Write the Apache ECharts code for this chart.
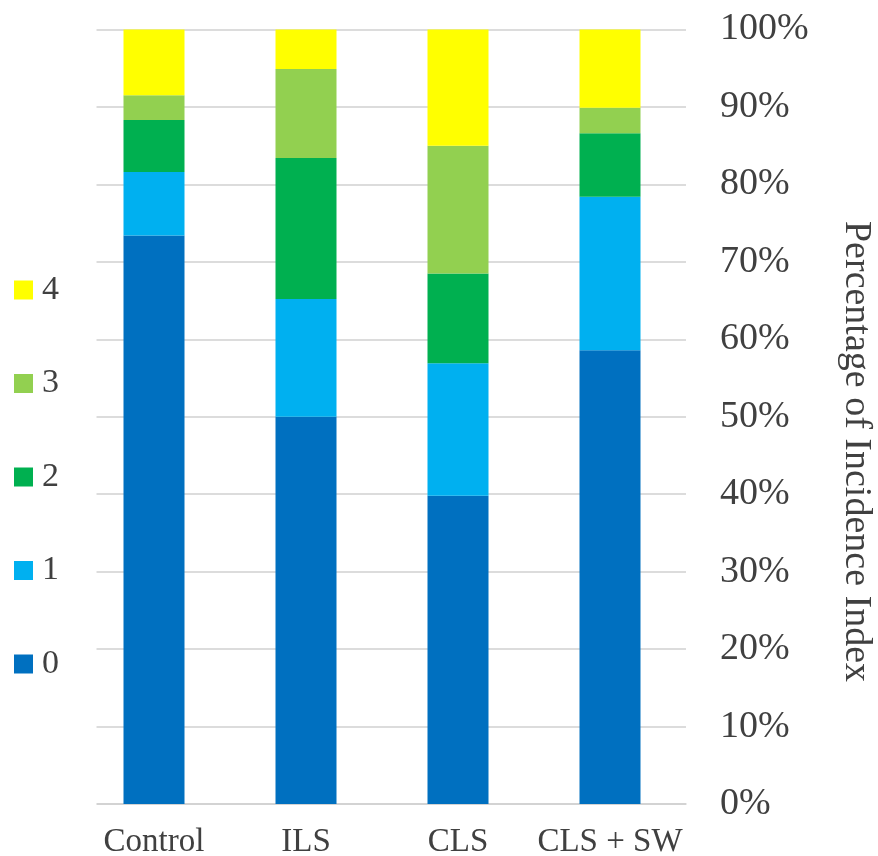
<!DOCTYPE html>
<html>
<head>
<meta charset="utf-8">
<script src="https://cdn.jsdelivr.net/npm/echarts@6/dist/echarts.min.js"></script>
<style>
  html, body { margin: 0; padding: 0; background: #fff; }
  #chart { width: 878px; height: 856px; }
</style>
</head>
<body>
<div id="chart"></div>
<script>
// Groups along the x axis
const categories = ['Control', 'ILS', 'CLS', 'CLS + SW'];

// Share (%) of each incidence index level per group
const level0 = [73.4, 50.0, 39.8, 58.6];
const level1 = [8.2, 15.2, 17.1, 19.8];
const level2 = [6.7, 18.2, 11.6, 8.2];
const level3 = [3.2, 11.5, 16.5, 3.3];
const level4 = [8.5, 5.1, 15.0, 10.1];

const levelNames = ['0', '1', '2', '3', '4'];
const levelData = [level0, level1, level2, level3, level4];
const levelColors = ['#0070C0', '#00B0F0', '#00B050', '#92D050', '#FFFF00'];

const yAxisName = 'Percentage of Incidence Index';

const FONT = '"Liberation Serif", "Times New Roman", serif';
const TEXT = '#404040';

const chart = echarts.init(document.getElementById('chart'), null, { renderer: 'canvas' });

chart.setOption({
  animation: false,
  backgroundColor: '#ffffff',
  grid: { left: 78, right: 192, top: 29.5, bottom: 52, containLabel: false, outerBoundsMode: 'none' },
  legend: {
    orient: 'vertical',
    left: 14,
    top: 273,
    padding: 0,
    z: 10,
    data: ['4', '3', '2', '1', '0'],
    itemWidth: 19,
    itemHeight: 19,
    itemGap: 59.5,
    icon: 'rect',
    textStyle: { fontFamily: FONT, fontSize: 34, color: TEXT, lineHeight: 34, padding: [0, 0, 0, 4] }
  },
  xAxis: {
    type: 'category',
    data: categories,
    axisLine: { lineStyle: { color: '#D0D0D0', width: 1.5 } },
    axisTick: { show: false },
    axisLabel: { fontFamily: FONT, fontSize: 33, color: TEXT, margin: 22, interval: 0 }
  },
  yAxis: {
    type: 'value',
    position: 'right',
    min: 0,
    max: 100,
    interval: 10,
    axisLine: { show: false },
    axisTick: { show: false },
    splitLine: { lineStyle: { color: '#D0D0D0', width: 1.5 } },
    axisLabel: { fontFamily: FONT, fontSize: 38, color: TEXT, margin: 34, formatter: '{value}%' }
  },
  series: levelNames.map((name, i) => ({
    name: name,
    type: 'bar',
    stack: 'total',
    barWidth: 61,
    itemStyle: { color: levelColors[i] },
    data: levelData[i]
  })),
  graphic: [
    {
      // white panel under the legend, trimming the grid lines on the left
      type: 'rect',
      z: 5,
      shape: { x: 0, y: 0, width: 96.5, height: 856 },
      style: { fill: '#ffffff' }
    },
    {
      type: 'text',
      z: 10,
      x: 856,
      y: 451.5,
      rotation: -Math.PI / 2,
      style: {
        text: yAxisName,
        fontFamily: FONT,
        fontSize: 38,
        fill: TEXT,
        align: 'center',
        verticalAlign: 'middle'
      }
    }
  ]
});
</script>
</body>
</html>
